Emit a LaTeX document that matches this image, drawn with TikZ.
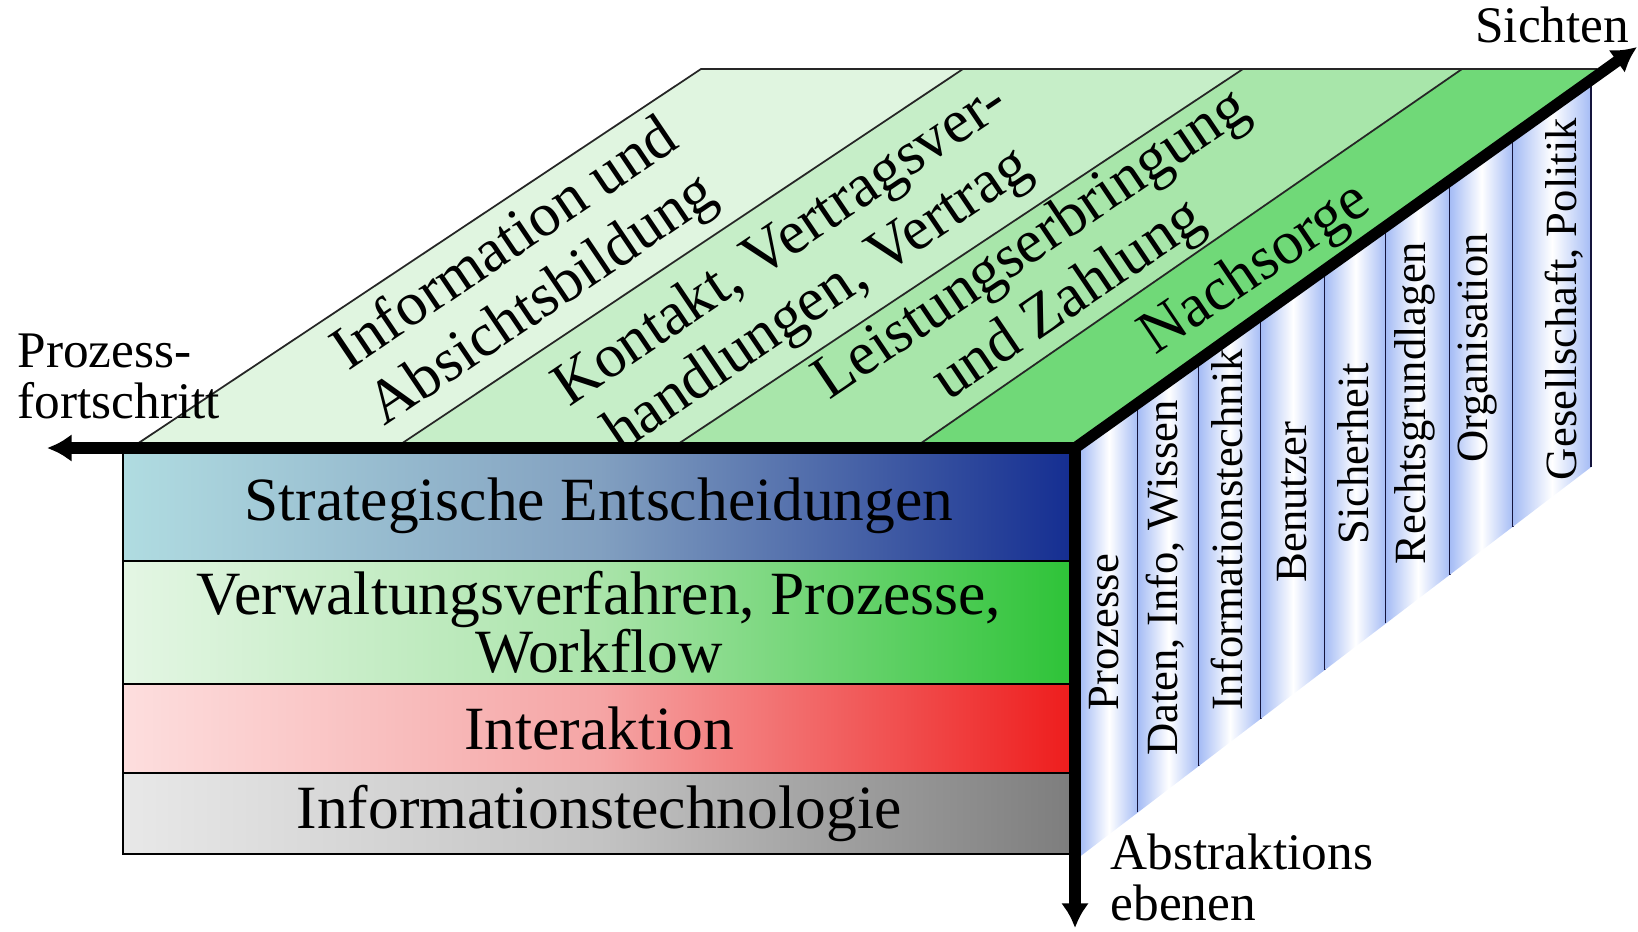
\documentclass[tikz,border=0pt]{standalone}
\usepackage{fontspec}
\setmainfont{Liberation Serif}
\usepackage{tikz}
\usetikzlibrary{positioning,arrows.meta}

\definecolor{stripA}{RGB}{224,245,224}
\definecolor{stripB}{RGB}{198,238,200}
\definecolor{stripC}{RGB}{168,230,170}
\definecolor{stripD}{RGB}{112,217,120}
\definecolor{sideblue}{RGB}{165,188,245}
\definecolor{sideline}{RGB}{20,20,60}
\definecolor{stratL}{RGB}{176,220,225}
\definecolor{stratM}{RGB}{130,160,192}
\definecolor{stratR}{RGB}{20,45,145}
\definecolor{verwL}{RGB}{228,246,228}
\definecolor{verwM}{RGB}{170,228,170}
\definecolor{verwR}{RGB}{45,195,55}
\definecolor{interL}{RGB}{253,222,222}
\definecolor{interM}{RGB}{245,165,165}
\definecolor{interR}{RGB}{238,28,28}
\definecolor{itL}{RGB}{232,232,232}
\definecolor{itM}{RGB}{195,195,195}
\definecolor{itR}{RGB}{125,125,125}

\begin{document}
\begin{tikzpicture}[
    axisarrow/.style={line width=3.2pt, -{Latex[length=7pt,width=8pt]}},
    thinline/.style={line width=0.5pt, black!85},
    layer/.style={draw=black, line width=0.5pt, minimum width=9.52cm, inner sep=0pt, outer sep=0pt, align=center, font=\fontsize{17.5}{16.5}\selectfont},
    toplabel/.style={rotate=34, align=center, font=\fontsize{17.5}{19}\selectfont},
    sidelabel/.style={rotate=90, inner sep=0pt, font=\fontsize{12.7}{14}\selectfont},
    axislabel/.style={inner sep=0pt, align=left, font=\fontsize{14.6}{14.6}\selectfont}
  ]
  \useasboundingbox (0,0) rectangle (16.38,9.31);
  % 顶面
  \coordinate (a0) at (1.31,4.83);
  \coordinate (a1) at (3.95,4.83);
  \coordinate (a2) at (6.72,4.83);
  \coordinate (a3) at (9.14,4.83);
  \coordinate (O) at (10.75,4.83);
  \coordinate (b0) at (7.01,8.62);
  \coordinate (b1) at (9.63,8.62);
  \coordinate (b2) at (12.43,8.62);
  \coordinate (b3) at (14.62,8.62);
  \coordinate (b4) at (15.97,8.62);
  \fill[stripA] (a0) -- (a1) -- (b1) -- (b0) -- cycle;
  \fill[stripB] (a1) -- (a2) -- (b2) -- (b1) -- cycle;
  \fill[stripC] (a2) -- (a3) -- (b3) -- (b2) -- cycle;
  \fill[stripD] (a3) -- (O) -- (b4) -- (b3) -- cycle;
  \draw[thinline] (a0) -- (b0) -- (b4);
  \draw[thinline] (a1) -- (b1);
  \draw[thinline] (a2) -- (b2);
  \draw[thinline] (a3) -- (b3);
  % 侧面
  \foreach \xa/\xb in {10.80/11.38, 11.38/11.99, 11.99/12.61, 12.61/13.25,
                       13.25/13.86, 13.86/14.50, 14.50/15.13, 15.13/15.91} {
    \pgfmathsetmacro\ta{4.83+0.7135*(\xa-10.75)}
    \pgfmathsetmacro\tb{4.83+0.7135*(\xb-10.75)}
    \pgfmathsetmacro\ba{0.76+0.762*(\xa-10.82)}
    \pgfmathsetmacro\bb{0.76+0.762*(\xb-10.82)}
    \shade[left color=sideblue, right color=sideblue, middle color=white]
      (\xa,\ta) -- (\xb,\tb) -- (\xb,\bb) -- (\xa,\ba) -- cycle;
    \draw[line width=0.5pt, sideline] (\xb,\tb) -- (\xb,\bb);
  }
  % 正面
  \node[layer, left color=stratL, right color=stratR, middle color=stratM,
        minimum height=1.10cm, anchor=north west] (strat) at (1.23,4.80) {Strategische Entscheidungen};
  \node[layer, left color=verwL, right color=verwR, middle color=verwM,
        minimum height=1.23cm, below=0pt of strat] (verw) {Verwaltungsverfahren, Prozesse,\\Workflow};
  \node[layer, left color=interL, right color=interR, middle color=interM,
        minimum height=0.89cm, below=0pt of verw] (inter) {Interaktion};
  \node[layer, left color=itL, right color=itR, middle color=itM,
        minimum height=0.81cm, below=0pt of inter] (itech) {Informationstechnologie};
  % 坐标轴
  \coordinate (P) at (0.47,4.83);
  \coordinate (A) at (10.75,0.03);
  \coordinate (S) at (16.37,8.84);
  \draw[axisarrow] (O) -- (P);
  \draw[axisarrow] (O) -- (A);
  \draw[axisarrow] (O) -- (S);
  % 顶面文字
  \node[toplabel] (info) at (5.25,6.57) {Information und\\Absichtsbildung};
  \node[toplabel] (kontakt) at (8.00,6.57) {Kontakt, Vertragsver-\\handlungen, Vertrag};
  \node[toplabel] (leist) at (10.51,6.57) {Leistungserbringung\\und Zahlung};
  \node[toplabel] (nach) at (12.56,6.61) {Nachsorge};
  % 侧面文字
  \foreach \x/\y/\txt [count=\i] in {11.04/2.99/Prozesse, 11.65/3.53/{Daten, Info, Wissen},
      12.27/4.01/Informationstechnik, 12.92/4.29/Benutzer, 13.53/4.77/Sicherheit,
      14.15/5.28/Rechtsgrundlagen, 14.78/5.83/Organisation, 15.64/6.32/{Gesellschaft, Politik}}
    \node[sidelabel] (side\i) at (\x,\y) {\txt};
  % 轴标注
  \node[axislabel, anchor=north west] (prozess) at (0.17,5.98) {Prozess-\\fortschritt};
  \node[axislabel, anchor=base east] (sichten) at (16.30,8.89) {Sichten};
  \node[axislabel, anchor=north west] (abstr) at (11.10,0.98) {Abstraktions\\ebenen};
\end{tikzpicture}
\end{document}
